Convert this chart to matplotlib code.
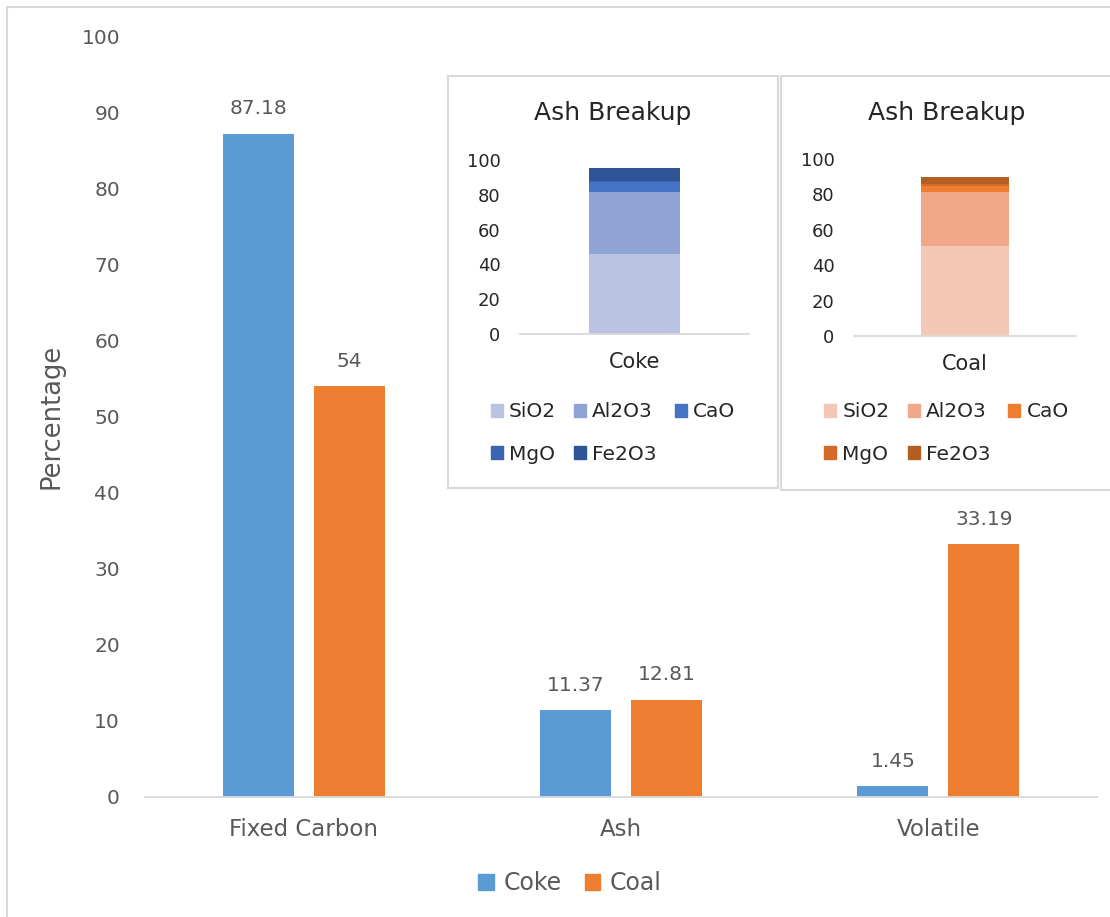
import matplotlib.pyplot as plt
from matplotlib.patches import Rectangle, Patch
import numpy as np

# Proximate analysis of coke and coal (%)
categories = ["Fixed Carbon", "Ash", "Volatile"]
coke_vals = [87.18, 11.37, 1.45]
coal_vals = [54, 12.81, 33.19]
coke_labels = ["87.18", "11.37", "1.45"]
coal_labels = ["54", "12.81", "33.19"]

# Ash composition (%)
oxides = ["SiO2", "Al2O3", "CaO", "MgO", "Fe2O3"]
coke_ash = [46.0, 35.7, 5.4, 1.1, 7.4]
coal_ash = [51.0, 30.6, 3.4, 1.1, 3.9]

coke_color = "#5B9BD5"
coal_color = "#ED7D31"
coke_ash_colors = ["#BAC4E2", "#8FA4D4", "#4472C4", "#3A65B0", "#2F5597"]
coal_ash_colors = ["#F4C7B6", "#F0A889", "#ED7D31", "#D46A28", "#B35E22"]

plt.rcParams['font.family'] = ['DejaVu Sans']
W, H = 1110, 917
fig = plt.figure(figsize=(W / 100, H / 100), dpi=100)


def px_axes(x0, y0, x1, y1, **kw):
    # axes from pixel box (top-left origin)
    return fig.add_axes([x0 / W, 1 - y1 / H, (x1 - x0) / W, (y1 - y0) / H], **kw)


# outer frame
fig.patches.append(Rectangle((7 / W, -0.01), 1.1, 1 - 7 / H + 0.01, transform=fig.transFigure,
                             facecolor="none", edgecolor="#D9D9D9", lw=1.5, zorder=0))

grey = "#595959"
ax = px_axes(145, 36, 1097, 797)
x = np.arange(len(categories))
w = 0.224
off = 0.1435
b1 = ax.bar(x - off, coke_vals, w, color=coke_color, label="Coke")
b2 = ax.bar(x + off, coal_vals, w, color=coal_color, label="Coal")
ax.bar_label(b1, labels=coke_labels, padding=11, fontsize=14.5, color=grey)
ax.bar_label(b2, labels=coal_labels, padding=11, fontsize=14.5, color=grey)
ax.set_xlim(-0.5, 2.5)
ax.set_ylim(0, 100)
ax.set_yticks(range(0, 101, 10))
ax.set_xticks(x)
ax.set_xticklabels(categories, fontsize=16.5)
ax.tick_params(axis="both", length=0, colors=grey)
ax.tick_params(axis="y", pad=18, labelsize=14.5)
ax.tick_params(axis="x", pad=15)
for s in ["top", "right", "left"]:
    ax.spines[s].set_visible(False)
ax.spines["bottom"].set_color("#D9D9D9")
ax.spines["bottom"].set_linewidth(1.3)
ax.set_ylabel("Percentage", fontsize=18.5, color=grey, labelpad=12)

fig.legend(handles=[Patch(color=coke_color, label="Coke"), Patch(color=coal_color, label="Coal")],
           loc="center", bbox_to_anchor=(570 / W, 1 - 883 / H), ncol=2, frameon=False,
           fontsize=17, labelcolor=grey, handlelength=0.65, handleheight=0.65,
           handletextpad=0.4, columnspacing=1.0)


def ash_inset(box, plot, name, values, colors):
    bx0, by0, bx1, by1 = box
    fig.patches.append(Rectangle((bx0 / W, 1 - by1 / H), (bx1 - bx0) / W, (by1 - by0) / H,
                                 transform=fig.transFigure, facecolor="white",
                                 edgecolor="#D9D9D9", lw=1.5, zorder=1.5))
    iax = px_axes(*plot)
    iax.set_zorder(2)
    iax.set_facecolor("none")
    bottom = 0
    handles = []
    for v, c, lab in zip(values, colors, oxides):
        iax.bar([0], [v], 0.4, bottom=bottom, color=c)
        bottom += v
        handles.append(Patch(color=c, label=lab))
    iax.set_xlim(-0.5, 0.5)
    iax.set_ylim(0, 100)
    iax.set_yticks(range(0, 101, 20))
    iax.set_xticks([0])
    iax.set_xticklabels([name], fontsize=15)
    iax.tick_params(axis="both", length=0, colors="#262626")
    iax.tick_params(axis="y", pad=14, labelsize=13)
    iax.tick_params(axis="x", pad=13)
    for s in ["top", "right", "left"]:
        iax.spines[s].set_visible(False)
    iax.spines["bottom"].set_color("#D9D9D9")
    iax.spines["bottom"].set_linewidth(1.3)
    cx = (bx0 + bx1) / 2
    fig.text(cx / W, 1 - 113 / H, "Ash Breakup", ha="center", va="center",
             fontsize=18, color="#262626", zorder=3)
    order = [0, 3, 1, 4, 2]
    leg = fig.legend(handles=[handles[i] for i in order], loc="center",
                     bbox_to_anchor=(cx / W, 1 - 433 / H), ncol=3, frameon=False,
                     fontsize=14.5, labelcolor="#262626", handlelength=0.6, handleheight=0.6,
                     handletextpad=0.3, columnspacing=0.9, labelspacing=1.15)
    leg.set_zorder(3)


ash_inset((448, 76, 778, 488), (520, 160, 749, 334), "Coke", coke_ash, coke_ash_colors)
ash_inset((781, 76, 1112, 490), (854, 159, 1076, 336), "Coal", coal_ash, coal_ash_colors)

fig.savefig("out.png", dpi=100)
